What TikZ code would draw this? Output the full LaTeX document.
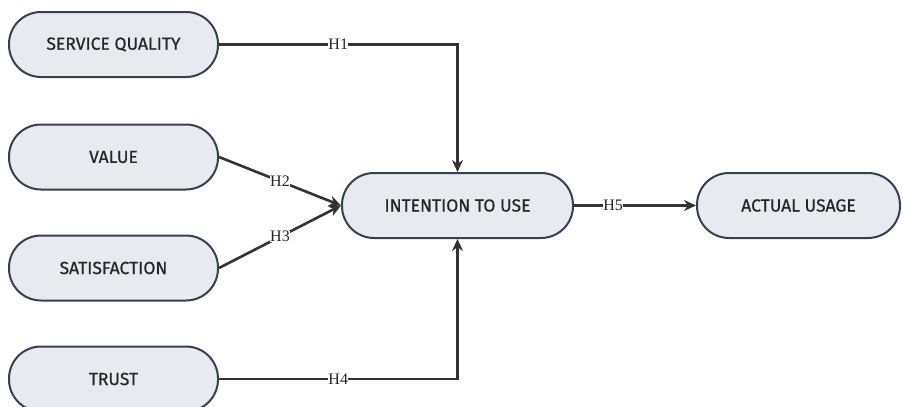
\documentclass[tikz,border=0pt]{standalone}
\usepackage{fontspec}
\setmainfont{Liberation Serif}
\newfontfamily\boxfont{Fira Sans}[FakeBold=0.6]
\usetikzlibrary{arrows.meta}
\definecolor{boxfill}{HTML}{E8EAF0}
\definecolor{boxline}{HTML}{34414F}
\definecolor{linkcol}{HTML}{333333}
\tikzset{
  construct/.style={draw=boxline, line width=2pt, fill=boxfill, rounded corners=32pt,
    minimum height=65pt, inner sep=0pt, font=\boxfont\fontsize{17.5}{18}\selectfont, text=black!85},
  link/.style={draw=linkcol, line width=2.6pt, -{Stealth[length=12pt,width=11pt]}},
  hlabel/.style={fill=white, inner sep=0.3pt, font=\rmfamily\fontsize{16}{16}\selectfont, text=black!85}
}
\begin{document}
\begin{tikzpicture}[x=1pt,y=-1pt]
\useasboundingbox (0,0) rectangle (903,407);
\node[construct, minimum width=209pt] (sq) at (113.5,44.5) {SERVICE QUALITY};
\node[construct, minimum width=209pt] (val) at (113.5,157) {VALUE};
\node[construct, minimum width=209pt] (sat) at (113.5,268) {SATISFACTION};
\node[construct, minimum width=209pt] (tr) at (113.5,379) {TRUST};
\node[construct, minimum width=231pt] (itu) at (457.5,205.5) {INTENTION TO USE};
\node[construct, minimum width=203pt] (au) at (798.5,205.5) {ACTUAL USAGE};

\draw[link] (sq.east) -- node[hlabel, pos=0.5] {H1} (sq.east -| itu) -- (itu.north);
\draw[link] (tr.east) -- node[hlabel, pos=0.5] {H4} (tr.east -| itu) -- (itu.south);
\draw[link] (val.east) -- node[hlabel, pos=0.5] {H2} (itu.west);
\draw[link] (sat.east) -- node[hlabel, pos=0.5] {H3} (itu.west);
\draw[link] (itu.east) -- node[hlabel, pos=0.32] {H5} (au.west);
\end{tikzpicture}
\end{document}
